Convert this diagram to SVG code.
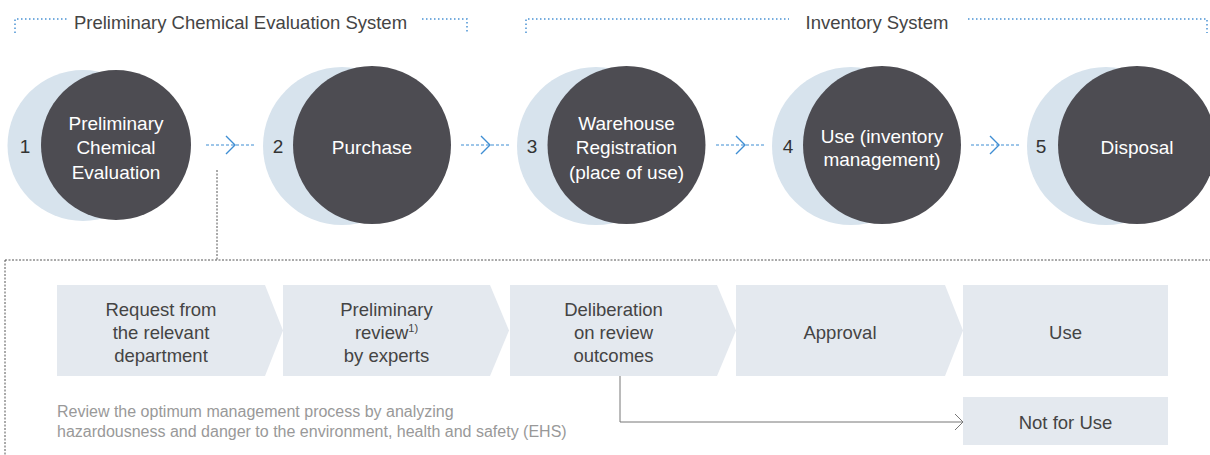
<svg xmlns="http://www.w3.org/2000/svg" width="1210" height="455" viewBox="0 0 1210 455">
<style>
text{font-family:"Liberation Sans",Arial,sans-serif}
.hdr{font-size:18.5px;fill:#444;text-anchor:middle}
.brk{fill:none;stroke:#4a92d4;stroke-width:1.5;stroke-dasharray:1.5 2.5}
.lt{fill:#d7e3ed}
.dk{fill:#4d4c52}
.ct{font-size:19px;fill:#fff;text-anchor:middle}
.num{font-size:19px;fill:#333;text-anchor:middle}
.flow{fill:none;stroke:#3f8ed3;stroke-width:1.2;stroke-dasharray:3 2}
.chev{fill:none;stroke:#3f8ed3;stroke-width:1.4}
.box{fill:#e4e9ef}
.bt{font-size:18.5px;fill:#444;text-anchor:middle}
.note{font-size:16px;fill:#999}
.dot{fill:none;stroke:#555;stroke-width:1;stroke-dasharray:2 1.5}
.gl{fill:none;stroke:#777;stroke-width:1}
</style>
<g id="header-preliminary">
<path class="brk" d="M15,33 V19 H67"/>
<path class="brk" d="M422,19 H467 V33"/>
<text class="hdr" x="240.5" y="29">Preliminary Chemical Evaluation System</text>
</g>
<g id="header-inventory">
<path class="brk" d="M526,33 V19 H789"/>
<path class="brk" d="M968,19 H1207 V33"/>
<text class="hdr" x="877" y="29">Inventory System</text>
</g>
<g id="step1">
<circle class="lt" cx="83" cy="145.5" r="75.5"/>
<circle class="dk" cx="116" cy="145" r="75"/>
<text class="num" x="25" y="153">1</text>
<text class="ct" x="116" y="129.5">Preliminary</text>
<text class="ct" x="116" y="154">Chemical</text>
<text class="ct" x="116" y="178.5">Evaluation</text>
</g>
<g id="step2">
<circle class="lt" cx="342" cy="146" r="79"/>
<circle class="dk" cx="372" cy="145" r="79"/>
<text class="num" x="278" y="153">2</text>
<text class="ct" x="372" y="154">Purchase</text>
</g>
<g id="step3">
<circle class="lt" cx="596" cy="146" r="79"/>
<circle class="dk" cx="626.5" cy="145" r="79"/>
<text class="num" x="532" y="153">3</text>
<text class="ct" x="626.5" y="129.5">Warehouse</text>
<text class="ct" x="626.5" y="154">Registration</text>
<text class="ct" x="626.5" y="178.5">(place of use)</text>
</g>
<g id="step4">
<circle class="lt" cx="851" cy="146" r="79"/>
<circle class="dk" cx="882" cy="145" r="79"/>
<text class="num" x="788" y="153">4</text>
<text class="ct" x="882" y="142.5">Use (inventory</text>
<text class="ct" x="882" y="166">management)</text>
</g>
<g id="step5">
<circle class="lt" cx="1106" cy="146" r="79"/>
<circle class="dk" cx="1137" cy="145" r="79"/>
<text class="num" x="1041" y="153">5</text>
<text class="ct" x="1137" y="154">Disposal</text>
</g>
<g id="box-request">
<path class="box" d="M57,285 H265 L283,330.5 L265,376 H57 Z"/>
<text class="bt" x="161" y="316">Request from</text>
<text class="bt" x="161" y="339">the relevant</text>
<text class="bt" x="161" y="362">department</text>
</g>
<g id="box-review">
<path class="box" d="M283,285 H490 L509,330.5 L490,376 H283 Z"/>
<text class="bt" x="386.5" y="316">Preliminary</text>
<text class="bt" x="386.5" y="339">review<tspan font-size="11" dy="-7">1)</tspan></text>
<text class="bt" x="386.5" y="362">by experts</text>
</g>
<g id="box-deliberation">
<path class="box" d="M510,285 H717 L736,330.5 L717,376 H510 Z"/>
<text class="bt" x="613.5" y="316">Deliberation</text>
<text class="bt" x="613.5" y="339">on review</text>
<text class="bt" x="613.5" y="362">outcomes</text>
</g>
<g id="box-approval">
<path class="box" d="M736,285 H945 L963,330.5 L945,376 H736 Z"/>
<text class="bt" x="840" y="339">Approval</text>
</g>
<g id="box-use">
<rect class="box" x="963" y="285" width="205" height="91"/>
<text class="bt" x="1065.5" y="339">Use</text>
</g>
<g id="box-notforuse">
<rect class="box" x="963" y="397" width="205" height="48"/>
<text class="bt" x="1065.5" y="429">Not for Use</text>
</g>
<g id="note">
<text class="note" x="57" y="417">Review the optimum management process by analyzing</text>
<text class="note" x="57" y="437">hazardousness and danger to the environment, health and safety (EHS)</text>
</g>
<g id="connectors">
<path class="flow" d="M206,145 H254"/>
<path class="chev" d="M226,136 L235,145 L226,154"/>
<path class="flow" d="M461,145 H509"/>
<path class="chev" d="M481,136 L490,145 L481,154"/>
<path class="flow" d="M716,145 H764"/>
<path class="chev" d="M736,136 L745,145 L736,154"/>
<path class="flow" d="M971,145 H1019"/>
<path class="chev" d="M990,136 L999,145 L990,154"/>
<path class="dot" d="M217,170 V260"/>
<path class="dot" d="M5,260 H1210"/>
<path class="dot" d="M5,260 V455"/>
<path class="gl" d="M620,376 V422 H962"/>
<path class="gl" d="M955,414 L963,422 L955,430"/>
</g>
</svg>
